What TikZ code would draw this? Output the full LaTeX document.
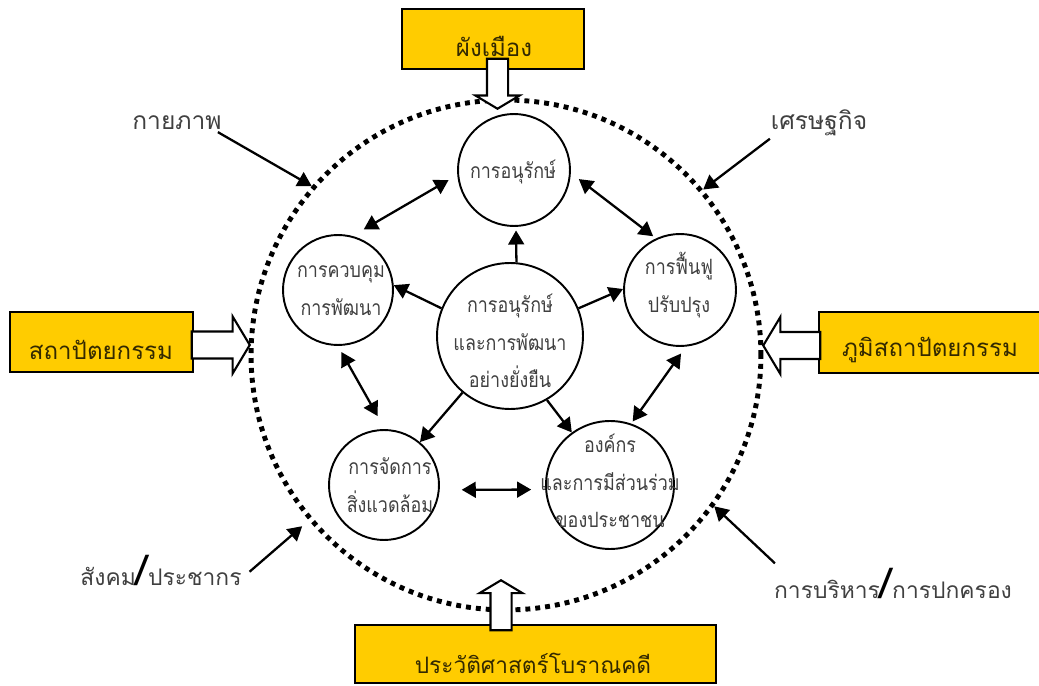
\documentclass[tikz,border=0pt]{standalone}
\usepackage{fontspec}
\usetikzlibrary{arrows.meta, shapes.arrows}
\newfontfamily\thaifont[Script=Thai]{Loma}
\newfontfamily\thainarrow[Script=Thai, FakeStretch=0.85]{Loma}
\definecolor{capgold}{HTML}{FFCC00}
\newcommand{\bigslash}{{\color{black}\fontsize{24}{24}\selectfont/}}
\tikzset{
    ring/.style={draw, circle, line width=1.1pt, fill=white, inner sep=0pt},
    limit/.style={draw, circle, line width=2.8pt, dash pattern=on 2.8pt off 2.85pt, inner sep=0pt},
    capbox/.style={draw, fill=capgold, line width=1.2pt, inner sep=0pt},
    captext/.style={font=\thaifont\fontsize{13.7}{17}\selectfont, text=black!80!capgold},
    ringtext/.style={font=\thainarrow\fontsize{12}{21.5}\selectfont, align=center, text=black!75},
    sidetext/.style={font=\thaifont\fontsize{14}{17}\selectfont, text=black!75},
    hollow/.style={shape=single arrow, draw, fill=white, line width=1.2pt, inner xsep=0pt,
        anchor=tip, single arrow tip angle=118},
    link/.style={line width=1.3pt},
}
\begin{document}
\begin{tikzpicture}[x=0.02cm, y=-0.02cm, >={Triangle[length=8pt, width=9pt]}]
        \useasboundingbox (0, 0) rectangle (1039, 686);

        \node[limit, minimum size=10.2cm] (fence) at (506, 355) {};

        \node[capbox, minimum width=3.64cm, minimum height=1.2cm] (city) at (493, 39) {};
        \node[capbox, minimum width=3.66cm, minimum height=1.2cm] (arch) at (101.5, 342) {};
        \node[capbox, minimum width=4.44cm, minimum height=1.22cm] (land) at (930, 342.5) {};
        \node[capbox, minimum width=7.22cm, minimum height=1.16cm] (hist) at (535.5, 654) {};

        \node[captext] (city_t) at (494, 46) {ผังเมือง};
        \node[captext] (arch_t) at (101, 350) {สถาปัตยกรรม};
        \node[captext] (land_t) at (930, 350) {ภูมิสถาปัตยกรรม};
        \node[captext, font=\thaifont\fontsize{12.9}{17}\selectfont] (hist_t) at (533, 663) {ประวัติศาสตร์โบราณคดี};

        \node[hollow, rotate=-90, minimum height=1cm, inner ysep=.19cm, single arrow head extend=.23cm] (city_in) at (497.5, 110) {};
        \node[hollow, minimum height=1.16cm, inner ysep=.25cm, single arrow head extend=.3cm] (arch_in) at (251, 345) {};
        \node[hollow, rotate=180, minimum height=1.14cm, inner ysep=.25cm, single arrow head extend=.3cm] (land_in) at (762, 345.5) {};
        \node[hollow, rotate=90, minimum height=1cm, inner ysep=.19cm, single arrow head extend=.22cm] (hist_in) at (501, 579) {};

        \node[sidetext] (body) at (177, 123) {กายภาพ};
        \node[sidetext] (econ) at (819, 123) {เศรษฐกิจ};
        \node[sidetext, font=\thaifont\fontsize{13}{17}\selectfont] (folk) at (161, 570) {สังคม\bigslash ประชากร};
        \node[sidetext, font=\thaifont\fontsize{13}{17}\selectfont] (rule) at (893, 583) {การบริหาร\bigslash การปกครอง};

        \node[ring, minimum size=2.24cm] (keep) at (514, 170) {};
        \node[ring, minimum size=2.2cm] (guard) at (338, 290) {};
        \node[ring, minimum size=2.24cm] (renew) at (680, 290) {};
        \node[ring, minimum size=2.92cm] (core) at (510, 336) {};
        \node[ring, minimum size=2.2cm] (envi) at (384, 485) {};
        \node[ring, minimum size=2.56cm] (org) at (610, 485) {};

        \node[ringtext] (keep_t) at (513, 172) {การอนุรักษ์};
        \node[ringtext] (guard_t) at (341, 291) {การควบคุม\\การพัฒนา};
        \node[ringtext] (renew_t) at (679, 285) {การฟื้นฟู\\ปรับปรุง};
        \node[ringtext] (core_t) at (510, 341) {การอนุรักษ์\\และการพัฒนา\\อย่างยั่งยืน};
        \node[ringtext] (envi_t) at (390, 485) {การจัดการ\\สิ่งแวดล้อม};
        \node[ringtext] (org_t) at (610, 481) {องค์กร\\และการมีส่วนร่วม\\ของประชาชน};

        \draw[->, link] ([xshift=-5.7pt, yshift=2.3pt]body.south east) -- (fence.139);
        \draw[->, link] ([xshift=3pt, yshift=2pt]econ.south west) -- (fence.40);
        \draw[->, link, shorten >=5pt] ([xshift=1pt, yshift=-1pt]folk.east) -- (fence.220);
        \draw[->, link] ([xshift=4pt, yshift=-1pt]rule.north west) -- (fence.324);

        \draw[->, link, shorten >=2pt] (core.85) -- (keep.272);
        \draw[->, link] (core.158) -- (guard.5);
        \draw[->, link] (core.22) -- (renew.179);
        \draw[->, link] (core.230) -- (envi.50);
        \draw[->, link] (core.300) -- (org.126);

        \draw[<->, link, shorten <=5.7pt, shorten >=7.4pt] (keep.185) -- (guard.75);
        \draw[<->, link, shorten <=5.7pt, shorten >=2pt] (keep.357) -- (renew.115);
        \draw[<->, link, shorten <=4pt, shorten >=8.5pt] (guard.270) -- (envi.89);
        \draw[<->, link, shorten <=4.8pt, shorten >=1.5pt] (renew.276) -- (org.71);
        \draw[<->, link, shorten <=12.5pt, shorten >=8pt] (envi.355) -- (org.184);
    \end{tikzpicture}
\end{document}
